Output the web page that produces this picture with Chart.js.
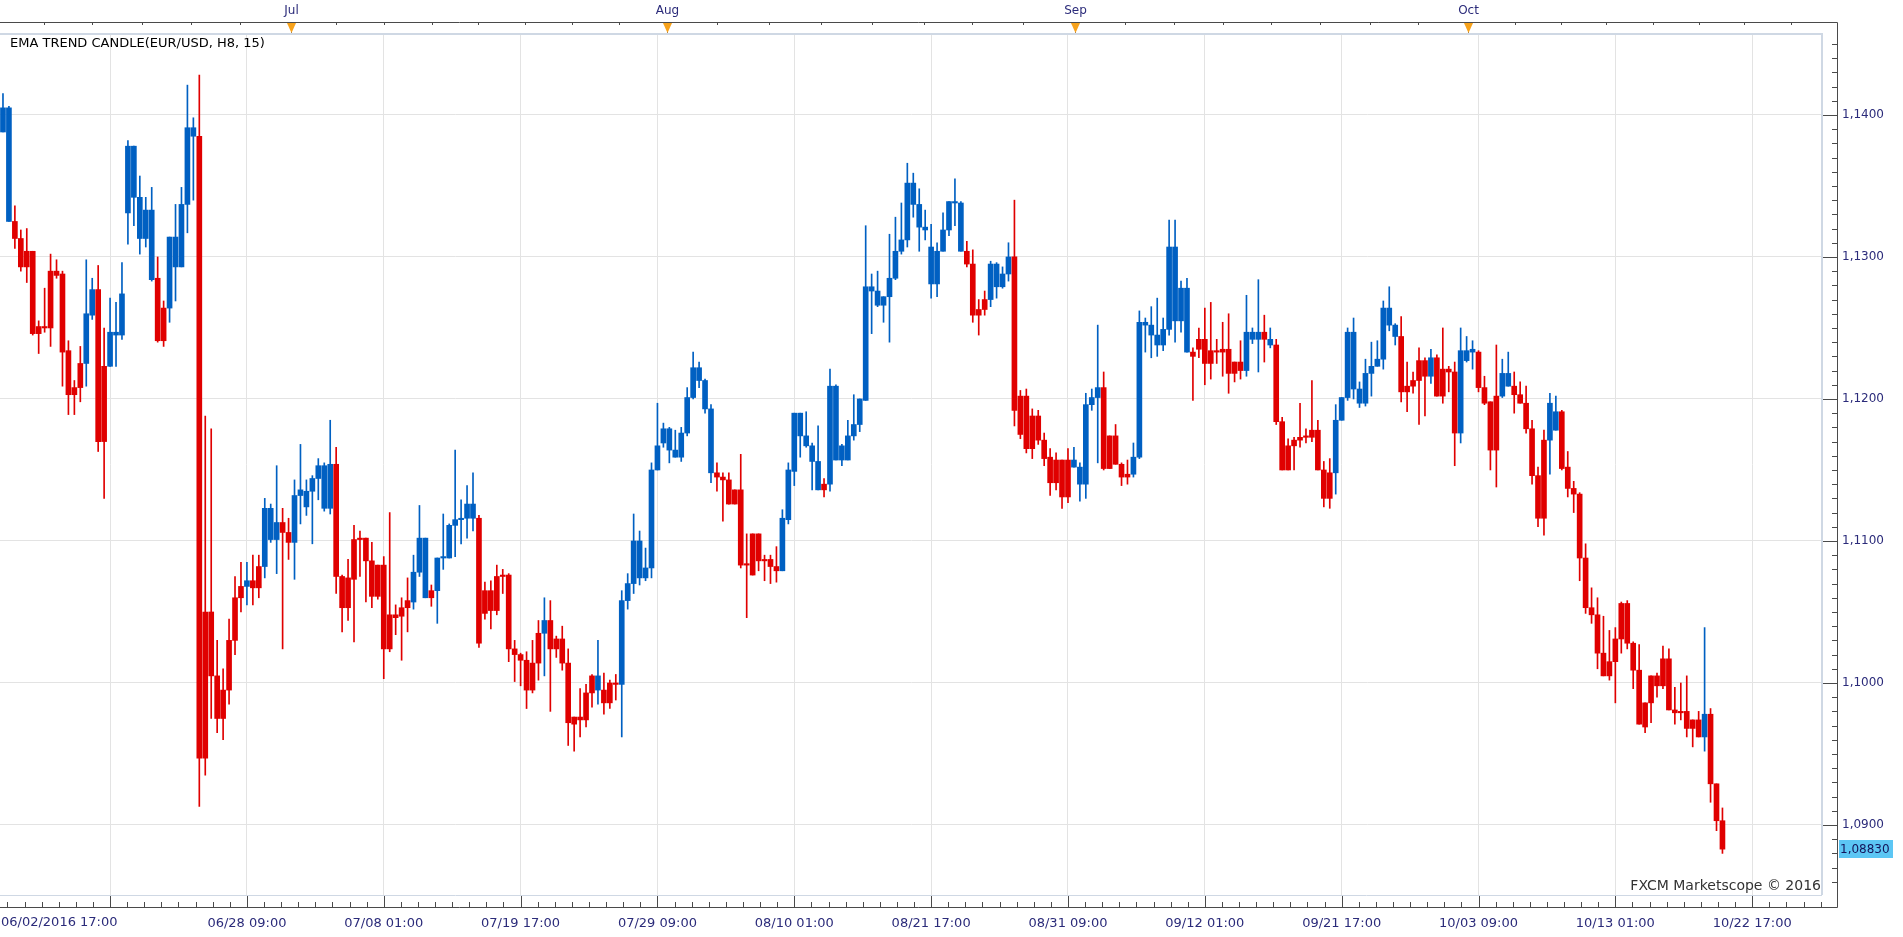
<!DOCTYPE html>
<html>
<head>
<meta charset="utf-8">
<title>EMA TREND CANDLE (EUR/USD, H8, 15)</title>
<script src="https://cdn.jsdelivr.net/npm/chart.js@4.4.1/dist/chart.umd.min.js"></script>
<style>
  html, body { margin: 0; padding: 0; background: #ffffff; }
  #wrap { position: relative; width: 1903px; height: 937px; }
</style>
</head>
<body>
<div id="wrap"><canvas id="chart"></canvas></div>
<script>
// EUR/USD H8 candles (one row = 10 candles)
const opens = [
  1.1388,1.1405,1.1325,1.1313,1.1293,1.1304,1.1246,1.1251,1.1250,1.1290,
  1.1288,1.1234,1.1203,1.1208,1.1225,1.1259,1.1277,1.1170,1.1223,1.1247,
  1.1245,1.1331,1.1378,1.1342,1.1313,1.1333,1.1285,1.1241,1.1264,1.1314,
  1.1293,1.1337,1.1391,1.1385,1.0947,1.1050,1.1005,1.0975,1.0995,1.1030,
  1.1060,1.1068,1.1072,1.1067,1.1082,1.1123,1.1101,1.1113,1.1106,1.1099,
  1.1132,1.1135,1.1135,1.1144,1.1153,1.1123,1.1154,1.1075,1.1053,1.1073,
  1.1101,1.1102,1.1086,1.1061,1.1083,1.1024,1.1048,1.1047,1.1053,1.1057,
  1.1078,1.1102,1.1060,1.1065,1.1088,1.1088,1.1111,1.1115,1.1116,1.1126,
  1.1116,1.1049,1.1065,1.1051,1.1075,1.1076,1.1024,1.1020,1.1016,1.0995,
  1.1014,1.1035,1.1044,1.1024,1.1031,1.1014,1.0971,1.0976,1.0974,1.0993,
  1.1005,1.0995,1.0986,1.1000,1.0999,1.1058,1.1070,1.1100,1.1074,1.1081,
  1.1150,1.1169,1.1179,1.1164,1.1159,1.1176,1.1201,1.1222,1.1213,1.1193,
  1.1148,1.1145,1.1143,1.1126,1.1136,1.1083,1.1076,1.1105,1.1086,1.1087,
  1.1082,1.1079,1.1115,1.1149,1.1190,1.1174,1.1167,1.1156,1.1136,1.1140,
  1.1209,1.1157,1.1157,1.1174,1.1182,1.1199,1.1279,1.1276,1.1266,1.1272,
  1.1285,1.1304,1.1312,1.1352,1.1337,1.1321,1.1307,1.1281,1.1304,1.1319,
  1.1339,1.1338,1.1304,1.1295,1.1259,1.1263,1.1270,1.1295,1.1279,1.1288,
  1.1300,1.1175,1.1202,1.1165,1.1188,1.1171,1.1159,1.1141,1.1157,1.1131,
  1.1157,1.1152,1.1140,1.1196,1.1201,1.1208,1.1151,1.1174,1.1154,1.1145,
  1.1147,1.1159,1.1254,1.1252,1.1245,1.1238,1.1249,1.1307,1.1255,1.1278,
  1.1233,1.1235,1.1242,1.1225,1.1234,1.1233,1.1235,1.1218,1.1226,1.1220,
  1.1247,1.1242,1.1247,1.1242,1.1238,1.1184,1.1150,1.1167,1.1171,1.1173,
  1.1173,1.1178,1.1150,1.1130,1.1148,1.1185,1.1201,1.1247,1.1207,1.1197,
  1.1218,1.1223,1.1228,1.1264,1.1252,1.1244,1.1205,1.1209,1.1213,1.1227,
  1.1216,1.1229,1.1202,1.1221,1.1219,1.1176,1.1234,1.1233,1.1233,1.1208,
  1.1198,1.1164,1.1202,1.1218,1.1209,1.1203,1.1197,1.1179,1.1146,1.1116,
  1.1171,1.1178,1.1191,1.1152,1.1137,1.1133,1.1088,1.1053,1.1048,1.1021,
  1.1005,1.1015,1.1031,1.1056,1.1028,1.1009,1.0969,1.0986,1.1005,1.0998,
  1.1017,1.0981,1.0979,1.0980,1.0968,1.0974,1.0962,1.0978,1.0929,1.0903
];
const highs = [
  1.1415,1.1406,1.1336,1.1319,1.1320,1.1304,1.1255,1.1278,1.1302,1.1298,
  1.1290,1.1241,1.1213,1.1237,1.1298,1.1285,1.1294,1.1250,1.1271,1.1268,
  1.1296,1.1382,1.1378,1.1357,1.1342,1.1349,1.1300,1.1269,1.1314,1.1337,
  1.1349,1.1421,1.1398,1.1428,1.1188,1.1179,1.1030,1.1010,1.1045,1.1075,
  1.1085,1.1085,1.1090,1.1090,1.1130,1.1126,1.1153,1.1123,1.1116,1.1143,
  1.1168,1.1143,1.1146,1.1158,1.1155,1.1185,1.1166,1.1076,1.1087,1.1111,
  1.1107,1.1102,1.1099,1.1083,1.1089,1.1120,1.1055,1.1060,1.1074,1.1090,
  1.1125,1.1102,1.1069,1.1088,1.1119,1.1112,1.1164,1.1129,1.1139,1.1148,
  1.1118,1.1071,1.1072,1.1083,1.1080,1.1077,1.1030,1.1021,1.1022,1.1030,
  1.1044,1.1060,1.1058,1.1033,1.1040,1.1024,1.0976,1.0996,1.0999,1.1006,
  1.1030,1.1007,1.1002,1.1006,1.1065,1.1077,1.1119,1.1107,1.1095,1.1155,
  1.1197,1.1183,1.1180,1.1178,1.1180,1.1208,1.1233,1.1226,1.1214,1.1196,
  1.1155,1.1148,1.1148,1.1136,1.1161,1.1105,1.1105,1.1105,1.1090,1.1090,
  1.1096,1.1122,1.1155,1.1190,1.1190,1.1191,1.1169,1.1181,1.1144,1.1221,
  1.1210,1.1168,1.1185,1.1203,1.1200,1.1322,1.1288,1.1290,1.1272,1.1316,
  1.1328,1.1338,1.1366,1.1359,1.1348,1.1333,1.1323,1.1310,1.1331,1.1339,
  1.1355,1.1339,1.1311,1.1305,1.1270,1.1276,1.1297,1.1296,1.1293,1.1310,
  1.1340,1.1206,1.1207,1.1193,1.1192,1.1176,1.1165,1.1162,1.1157,1.1165,
  1.1166,1.1155,1.1204,1.1207,1.1252,1.1219,1.1174,1.1182,1.1155,1.1157,
  1.1169,1.1262,1.1257,1.1265,1.1271,1.1257,1.1326,1.1326,1.1283,1.1285,
  1.1236,1.1250,1.1264,1.1268,1.1242,1.1254,1.1260,1.1226,1.1241,1.1273,
  1.1250,1.1284,1.1259,1.1250,1.1242,1.1187,1.1172,1.1173,1.1197,1.1179,
  1.1213,1.1185,1.1156,1.1158,1.1196,1.1201,1.1250,1.1257,1.1212,1.1228,
  1.1240,1.1241,1.1269,1.1279,1.1253,1.1258,1.1226,1.1219,1.1236,1.1229,
  1.1235,1.1231,1.1250,1.1223,1.1226,1.1250,1.1244,1.1241,1.1234,1.1216,
  1.1198,1.1238,1.1228,1.1233,1.1219,1.1212,1.1209,1.1185,1.1152,1.1178,
  1.1204,1.1202,1.1192,1.1163,1.1142,1.1134,1.1098,1.1067,1.1060,1.1047,
  1.1037,1.1039,1.1057,1.1058,1.1029,1.1027,1.0986,1.1005,1.1007,1.1026,
  1.1024,1.0997,1.1000,1.1005,1.0974,1.0980,1.1039,1.0982,1.0929,1.0912
];
const lows = [
  1.1388,1.1325,1.1306,1.1290,1.1282,1.1245,1.1232,1.1247,1.1237,1.1285,
  1.1209,1.1189,1.1189,1.1198,1.1209,1.1256,1.1163,1.1130,1.1223,1.1223,
  1.1242,1.1309,1.1322,1.1302,1.1307,1.1283,1.1240,1.1237,1.1254,1.1269,
  1.1293,1.1317,1.1340,1.0913,1.0935,1.0975,1.0965,1.0960,1.0985,1.1020,
  1.1050,1.1055,1.1055,1.1060,1.1074,1.1099,1.1077,1.1024,1.1087,1.1073,
  1.1112,1.1118,1.1098,1.1129,1.1121,1.1119,1.1063,1.1036,1.1044,1.1029,
  1.1075,1.1057,1.1053,1.1059,1.1003,1.1022,1.1034,1.1016,1.1036,1.1052,
  1.1075,1.1060,1.1054,1.1042,1.1080,1.1088,1.1089,1.1098,1.1102,1.1107,
  1.1025,1.1045,1.1038,1.1048,1.1063,1.1015,1.1001,1.0998,1.0982,1.0993,
  1.1002,1.1005,1.0980,1.1018,1.1009,1.0956,1.0952,1.0962,1.0969,1.0983,
  1.0985,1.0978,1.0982,1.0988,1.0962,1.1052,1.1063,1.1069,1.1072,1.1074,
  1.1150,1.1166,1.1155,1.1159,1.1156,1.1174,1.1200,1.1208,1.1190,1.1141,
  1.1135,1.1114,1.1126,1.1126,1.1081,1.1046,1.1076,1.1079,1.1072,1.1070,
  1.1071,1.1079,1.1112,1.1139,1.1159,1.1166,1.1136,1.1136,1.1131,1.1135,
  1.1157,1.1153,1.1157,1.1171,1.1177,1.1199,1.1246,1.1265,1.1254,1.1240,
  1.1284,1.1302,1.1307,1.1328,1.1304,1.1312,1.1271,1.1272,1.1304,1.1315,
  1.1322,1.1304,1.1293,1.1254,1.1245,1.1259,1.1265,1.1271,1.1278,1.1283,
  1.1181,1.1172,1.1162,1.1158,1.1168,1.1153,1.1132,1.1136,1.1123,1.1127,
  1.1152,1.1128,1.1130,1.1192,1.1155,1.1150,1.1151,1.1154,1.1139,1.1140,
  1.1145,1.1158,1.1233,1.1229,1.1230,1.1234,1.1245,1.1240,1.1247,1.1233,
  1.1199,1.1229,1.1210,1.1214,1.1225,1.1216,1.1204,1.1212,1.1214,1.1216,
  1.1239,1.1219,1.1226,1.1236,1.1182,1.1150,1.1150,1.1150,1.1166,1.1169,
  1.1170,1.1150,1.1124,1.1123,1.1133,1.1185,1.1199,1.1200,1.1194,1.1195,
  1.1202,1.1223,1.1221,1.1248,1.1238,1.1198,1.1191,1.1204,1.1182,1.1188,
  1.1211,1.1202,1.1197,1.1205,1.1153,1.1169,1.1226,1.1221,1.1205,1.1196,
  1.1150,1.1138,1.1201,1.1209,1.1190,1.1197,1.1176,1.1140,1.1110,1.1104,
  1.1147,1.1178,1.1150,1.1131,1.1120,1.1072,1.1049,1.1042,1.1010,1.1005,
  1.1002,1.0986,1.1021,1.1024,1.0996,1.0971,1.0965,1.0972,1.0990,1.0996,
  1.0981,1.0971,1.0974,1.0962,1.0955,1.0962,1.0952,1.0916,1.0896,1.0880
];
const closes = [
  1.1405,1.1325,1.1313,1.1293,1.1304,1.1246,1.1251,1.1250,1.1290,1.1287,
  1.1233,1.1203,1.1208,1.1225,1.1260,1.1277,1.1170,1.1223,1.1247,1.1245,
  1.1274,1.1378,1.1342,1.1313,1.1333,1.1284,1.1241,1.1264,1.1314,1.1293,
  1.1337,1.1391,1.1385,1.0947,1.1050,1.1005,1.0975,1.0995,1.1030,1.1060,
  1.1068,1.1072,1.1067,1.1082,1.1123,1.1101,1.1113,1.1106,1.1099,1.1132,
  1.1136,1.1124,1.1144,1.1153,1.1123,1.1154,1.1075,1.1053,1.1074,1.1101,
  1.1102,1.1086,1.1061,1.1083,1.1024,1.1048,1.1046,1.1053,1.1058,1.1078,
  1.1102,1.1060,1.1065,1.1088,1.1089,1.1111,1.1115,1.1116,1.1126,1.1116,
  1.1028,1.1065,1.1051,1.1075,1.1076,1.1024,1.1020,1.1016,1.0995,1.1014,
  1.1035,1.1044,1.1024,1.1031,1.1014,1.0972,1.0976,1.0974,1.0993,1.1005,
  1.0995,1.0986,1.1000,1.0999,1.1058,1.1070,1.1100,1.1074,1.1081,1.1150,
  1.1167,1.1179,1.1164,1.1159,1.1176,1.1201,1.1222,1.1213,1.1193,1.1148,
  1.1145,1.1143,1.1126,1.1136,1.1083,1.1084,1.1105,1.1086,1.1087,1.1082,
  1.1079,1.1116,1.1150,1.1190,1.1174,1.1167,1.1156,1.1136,1.1140,1.1209,
  1.1157,1.1167,1.1174,1.1182,1.1200,1.1279,1.1276,1.1266,1.1272,1.1285,
  1.1304,1.1312,1.1352,1.1337,1.1321,1.1319,1.1281,1.1304,1.1319,1.1339,
  1.1338,1.1304,1.1295,1.1259,1.1263,1.1270,1.1295,1.1279,1.1288,1.1300,
  1.1192,1.1202,1.1165,1.1188,1.1171,1.1158,1.1141,1.1157,1.1131,1.1157,
  1.1152,1.1140,1.1196,1.1201,1.1208,1.1151,1.1174,1.1154,1.1145,1.1147,
  1.1159,1.1254,1.1252,1.1245,1.1238,1.1249,1.1307,1.1255,1.1278,1.1233,
  1.1230,1.1242,1.1225,1.1234,1.1233,1.1235,1.1218,1.1226,1.1220,1.1247,
  1.1242,1.1247,1.1242,1.1238,1.1184,1.1150,1.1167,1.1171,1.1173,1.1174,
  1.1178,1.1150,1.1130,1.1148,1.1185,1.1201,1.1247,1.1207,1.1197,1.1218,
  1.1223,1.1228,1.1264,1.1252,1.1244,1.1205,1.1209,1.1213,1.1227,1.1216,
  1.1229,1.1202,1.1221,1.1219,1.1176,1.1234,1.1227,1.1235,1.1208,1.1197,
  1.1164,1.1202,1.1218,1.1209,1.1203,1.1197,1.1179,1.1146,1.1116,1.1171,
  1.1197,1.1191,1.1151,1.1137,1.1133,1.1088,1.1053,1.1048,1.1021,1.1005,
  1.1015,1.1031,1.1056,1.1028,1.1009,1.0971,1.0986,1.1005,1.0998,1.1017,
  1.0981,1.0979,1.0980,1.0968,1.0974,1.0962,1.0978,1.0929,1.0903,1.0883
];
// EMA trend colour of each candle: B = up trend (blue), R = down trend (red)
const trend = (
  "BBRRRRRRRR" + "RRRRBBRRBB" + "BBBBBBRRBB" + "BBBRRRRRRR" + "RBRRBBBRRB" +
  "BBBBBBRRRR" + "RRRRRRRRRB" + "BBRBBBBBBB" + "RRRRRRRRRR" + "RBRRRRRRRR" +
  "BRRRBBBBBB" + "BBBBBBBBBB" + "RRRRRRRRRR" + "RBBBBBBBRB" + "BBBBBBBBBB" +
  "BBBBBBBBBB" + "BBRRRRBBBB" + "RRRRRRRRRR" + "BBBBBRRRRR" + "BBBBBBBBBB" +
  "RRRRRRRRRB" + "BBRBRRRRRR" + "RRRRBBBBBB" + "BBBBBRRRRR" + "BRRRRBBBRR" +
  "RRBBRRRRRR" + "BBRRRRRRRR" + "RRRRRRRRRR" + "RRRRRRBRRR"
).split("");

// axis ticks (x positions are candle numbers)
const timeTickIdx = [18, 41, 64, 87, 110, 133, 156, 179, 202, 225, 248, 271, 294];
const timeTickLabels = ["", "06/28 09:00", "07/08 01:00", "07/19 17:00", "07/29 09:00", "08/10 01:00",
  "08/21 17:00", "08/31 09:00", "09/12 01:00", "09/21 17:00", "10/03 09:00", "10/13 01:00", "10/22 17:00"];
const firstTimeLabel = "06/02/2016 17:00";
const monthIdx = [48.4, 111.6, 180.2, 246.2];
const monthLabels = ["Jul", "Aug", "Sep", "Oct"];
const topTickIdx = [6.9, 15.0, 23.4, 31.6, 39.8, 56.0, 64.0, 72.1, 79.8, 87.7, 95.6, 103.5,
  120.0, 128.7, 137.5, 146.1, 154.8, 162.9, 171.5, 188.5, 196.8, 205.0, 213.1, 221.3, 229.7,
  237.9, 254.1, 261.8, 269.5, 277.3, 285.0, 292.7, 300.5];
const priceTicks = [1.09, 1.10, 1.11, 1.12, 1.13, 1.14];

const BLUE = "#0060c2";
const RED = "#e00000";
const NAVY = "#2b2b7a";
const FONT = "'DejaVu Sans', Verdana, sans-serif";

const candleIdx = opens.map((_, i) => i);
const colors = trend.map(t => (t === "B" ? BLUE : RED));
const wicks = candleIdx.map(i => ({ x: i, y: [lows[i], highs[i]] }));
const bodies = candleIdx.map(i => ({ x: i, y: [Math.min(opens[i], closes[i]), Math.max(opens[i], closes[i])] }));

const fmtPrice = (v, d) => v.toFixed(d).replace(".", ",");

// frame, outer axes, month markers and captions
const decor = {
  id: "decor",
  afterDraw(chart) {
    const { ctx, chartArea: a, scales: { x, y } } = chart;
    const axisX = a.right + 14;
    const axisTop = 22;
    const axisBottom = a.bottom + 12;
    ctx.save();

    // light frame round the plot
    ctx.strokeStyle = "#cfd8e4";
    ctx.lineWidth = 2;
    ctx.beginPath();
    ctx.moveTo(0, a.top); ctx.lineTo(a.right - 1, a.top);
    ctx.lineTo(a.right - 1, a.bottom);
    ctx.stroke();
    ctx.lineWidth = 1;
    ctx.beginPath();
    ctx.moveTo(0, a.bottom + 0.5); ctx.lineTo(a.right - 1, a.bottom + 0.5);
    ctx.stroke();

    // outer axis lines
    ctx.strokeStyle = "#4a4a4a";
    ctx.lineWidth = 1;
    ctx.beginPath();
    ctx.moveTo(0, axisTop + 0.5); ctx.lineTo(axisX + 0.5, axisTop + 0.5);
    ctx.lineTo(axisX + 0.5, axisBottom + 0.5); ctx.lineTo(0, axisBottom + 0.5);
    ctx.stroke();

    // top ticks
    ctx.beginPath();
    topTickIdx.concat(monthIdx).forEach(v => {
      const px = Math.round(x.getPixelForValue(v)) + 0.5;
      ctx.moveTo(px, axisTop); ctx.lineTo(px, axisTop + 3);
    });
    // bottom ticks: major at the time labels, 8 steps between them
    const step = (timeTickIdx[1] - timeTickIdx[0]) / 8;
    for (let v = timeTickIdx[0] - 6 * step; v <= 308; v += step) {
      const px = Math.round(x.getPixelForValue(v)) + 0.5;
      const major = Math.abs((v - timeTickIdx[0]) / step % 8) < 0.01;
      ctx.moveTo(px, axisBottom); ctx.lineTo(px, major ? a.bottom + 1 : axisBottom - 5);
    }
    // right ticks every 0.001
    for (let k = 1086; k <= 1145; k++) {
      const py = Math.round(y.getPixelForValue(k / 1000)) + 0.5;
      const major = k % 10 === 0;
      ctx.moveTo(axisX, py); ctx.lineTo(major ? a.right : axisX - 5, py);
    }
    ctx.stroke();

    // month markers
    ctx.font = "12px " + FONT;
    ctx.textAlign = "center";
    ctx.textBaseline = "middle";
    monthIdx.forEach((v, k) => {
      const px = Math.round(x.getPixelForValue(v)) + 0.5;
      ctx.strokeStyle = "#777";
      ctx.beginPath(); ctx.moveTo(px, axisTop + 9); ctx.lineTo(px, a.top - 1); ctx.stroke();
      ctx.fillStyle = "#f7a21b";
      ctx.beginPath();
      ctx.moveTo(px - 4.5, axisTop + 1); ctx.lineTo(px + 4.5, axisTop + 1); ctx.lineTo(px, axisTop + 11);
      ctx.closePath(); ctx.fill();
      ctx.fillStyle = NAVY;
      ctx.fillText(monthLabels[k], px, 11);
    });

    // first time label, pinned to the left edge
    ctx.font = "13px " + FONT;
    ctx.textAlign = "left";
    ctx.textBaseline = "top";
    ctx.fillStyle = NAVY;
    ctx.fillText(firstTimeLabel, 1, x.top + 21);

    // indicator caption
    ctx.font = "13px " + FONT;
    ctx.textBaseline = "middle";
    ctx.fillStyle = "#000";
    ctx.fillText("EMA TREND CANDLE(EUR/USD, H8, 15)", 10, a.top + 10);

    // copyright
    ctx.font = "14px " + FONT;
    ctx.textAlign = "right";
    ctx.fillStyle = "#333";
    ctx.fillText("FXCM Marketscope \u00a9 2016", a.right - 2, a.bottom - 9);

    // last price tag
    const last = closes[closes.length - 1];
    const py = Math.round(y.getPixelForValue(last));
    ctx.fillStyle = "#5cc6f4";
    ctx.fillRect(axisX + 2, py - 9, 54, 18);
    ctx.font = "12px " + FONT;
    ctx.textAlign = "left";
    ctx.fillStyle = "#14145a";
    ctx.fillText(fmtPrice(last, 5), axisX + 3, py + 1);
    ctx.restore();
  }
};

new Chart(document.getElementById("chart"), {
  type: "bar",
  data: {
    datasets: [
      { label: "wick", data: wicks, backgroundColor: colors, barThickness: 1, grouped: false, borderWidth: 0 },
      { label: "body", data: bodies, backgroundColor: colors, barThickness: 5, grouped: false, borderWidth: 0, minBarLength: 1 }
    ]
  },
  options: {
    responsive: true,
    maintainAspectRatio: false,
    animation: false,
    layout: { padding: { top: 34, left: 0, right: 0, bottom: 0 } },
    plugins: { legend: { display: false }, tooltip: { enabled: false } },
    scales: {
      x: {
        type: "linear",
        min: -0.5,
        max: 305.9,
        offset: false,
        afterBuildTicks: s => { s.ticks = timeTickIdx.map(v => ({ value: v })); },
        afterFit: s => { s.height = 42; },
        grid: { color: "#e3e3e3", drawTicks: false, offset: false },
        border: { display: false },
        ticks: {
          padding: 21, color: NAVY, autoSkip: false, maxRotation: 0,
          font: { family: FONT, size: 13 },
          callback: (v, k) => timeTickLabels[k]
        }
      },
      y: {
        position: "right",
        min: 1.08507,
        max: 1.1457,
        afterBuildTicks: s => { s.ticks = priceTicks.map(v => ({ value: v })); },
        afterFit: s => { s.width = 80; },
        grid: { color: "#e3e3e3", drawTicks: false },
        border: { display: false },
        ticks: {
          padding: 19, color: NAVY,
          font: { family: FONT, size: 12 },
          callback: v => fmtPrice(v, 4)
        }
      }
    }
  },
  plugins: [decor]
});
</script>
</body>
</html>
